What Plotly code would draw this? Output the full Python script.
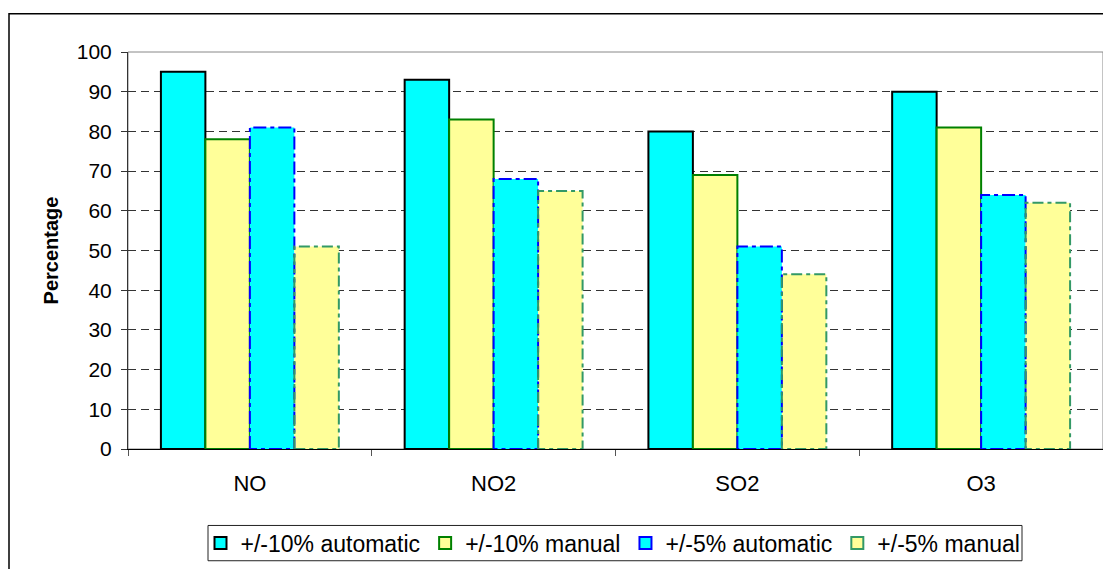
import plotly.graph_objects as go

categories = ["NO", "NO2", "SO2", "O3"]
series_names = ["+/-10% automatic", "+/-10% manual", "+/-5% automatic", "+/-5% manual"]
auto10 = [95, 93, 80, 90]
manual10 = [78, 83, 69, 81]
auto5 = [81, 68, 51, 64]
manual5 = [51, 65, 44, 62]
y_ticks = [0, 10, 20, 30, 40, 50, 60, 70, 80, 90, 100]

series_values = [auto10, manual10, auto5, manual5]
fills = ["#00FFFF", "#FFFF99", "#00FFFF", "#FFFF99"]
edges = ["#000000", "#008000", "#0000FF", "#339966"]
dashes = [None, None, "13px,4px,4px,4px", "11px,4px,4px,4px"]

FONT = "Liberation Sans, Arial, sans-serif"
W = 0.1825  # bar width in category units
n = len(series_names)
xc = list(range(len(categories)))

# plot-area geometry in figure pixels (page body adds an 8px offset)
L, T, R, B = 120, 44, 1095, 449
PW, PH = R - L, B - T

fig = go.Figure()
for k in range(n):
    offs = (k - (n - 1) / 2) * W
    xs = [c + offs for c in xc]
    dashed = dashes[k] is not None
    fig.add_trace(go.Bar(
        x=xs, y=series_values[k], width=W, name=series_names[k],
        marker=dict(color=fills[k],
                    line=dict(color=edges[k], width=0 if dashed else 2)),
        showlegend=not dashed, legendrank=k + 1,
    ))
    if dashed:
        ox, oy = [], []
        for x, v in zip(xs, series_values[k]):
            l, r = x - W / 2, x + W / 2
            ox += [l, l, r, r, l, None]
            oy += [0, v, v, 0, 0, None]
        fig.add_trace(go.Scatter(x=ox, y=oy, mode="lines", showlegend=False,
                                 line=dict(color=edges[k], width=2, dash=dashes[k]),
                                 hoverinfo="skip"))
        fig.add_trace(go.Bar(x=[None], y=[None], name=series_names[k],
                             marker=dict(color=fills[k], line=dict(color=edges[k], width=2)),
                             legendrank=k + 1))

fig.update_layout(
    width=1111, height=569,
    margin=dict(l=L, r=1111 - R, t=T, b=569 - B),
    paper_bgcolor="white", plot_bgcolor="white",
    barmode="overlay",
    font=dict(family=FONT, color="black", size=20),
    legend=dict(orientation="h", x=(605 - L) / PW, xanchor="center",
                y=(B - 545) / PH, yanchor="middle",
                borderwidth=0, font=dict(size=23), bgcolor="rgba(0,0,0,0)",
                traceorder="normal", itemclick=False),
    xaxis=dict(range=[-0.5, len(categories) - 0.5], tickmode="array", tickvals=xc,
               ticktext=categories, ticks="", showgrid=False, zeroline=False,
               showline=True, linecolor="black", linewidth=1,
               tickfont=dict(size=22), ticklabelstandoff=15,
               minor=dict(tickmode="array",
                          tickvals=[c - 0.5 for c in xc] + [len(categories) - 0.5],
                          ticks="outside", ticklen=6, tickcolor="#555", showgrid=False)),
    yaxis=dict(range=[0, 100], tickmode="array", tickvals=y_ticks, ticks="outside",
               ticklen=6, tickcolor="#333", showline=True, linecolor="#333", linewidth=1,
               zeroline=False, showgrid=True, gridcolor="#333", griddash="8px,5px",
               gridwidth=1, tickfont=dict(size=21), ticklabelstandoff=5,
               title=dict(text="<b>Percentage</b>", font=dict(size=20), standoff=12)),
)

# plot-area border (gray)
fig.add_shape(type="rect", xref="paper", yref="paper", x0=0, x1=1, y0=0, y1=1,
              line=dict(color="#888", width=1), layer="below")
# outer chart border
fig.add_shape(type="rect", xref="paper", yref="paper",
              x0=(1 - L) / PW, x1=1.03, y0=-0.5, y1=(B - 5) / PH,
              line=dict(color="#000", width=1.5), layer="below")
# legend frame
fig.add_shape(type="rect", xref="paper", yref="paper",
              x0=(200 - L) / PW, x1=(1014 - L) / PW,
              y0=(B - 563) / PH, y1=(B - 527) / PH,
              line=dict(color="#222", width=1), fillcolor="white", layer="below")

fig.write_html("out.html")
